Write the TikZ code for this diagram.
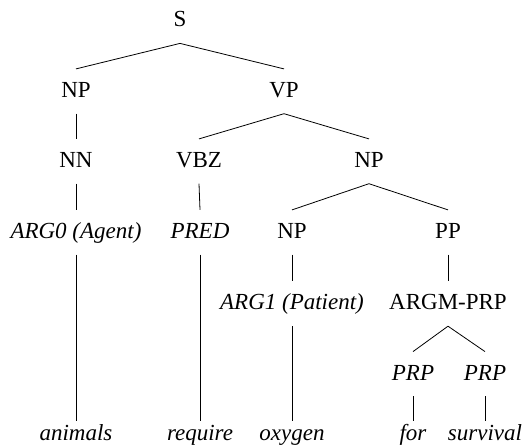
\documentclass[tikz,border=0pt]{standalone}
\usepackage{fontspec}
\setmainfont{Liberation Serif}
\usepackage{tikz}

\tikzset{
	cat/.style={anchor=base, inner sep=0pt, text height=28pt, text depth=16pt, font=\fontsize{23}{27}\selectfont},
	role/.style={cat, font=\fontsize{23}{27}\selectfont\itshape},
	word/.style={anchor=base, inner sep=0pt, text height=19.5pt, text depth=5pt, font=\fontsize{23}{27}\selectfont\itshape}
}

\begin{document}
\begin{tikzpicture}[x=1pt,y=-1pt,line width=0.8pt]
\useasboundingbox (0,0) rectangle (522,446);
% categories
\node[cat] (s) at (180,27) {S};
\node[cat] (np1) at (76,97.3) {NP};
\node[cat] (vp) at (284,97.3) {VP};
\node[cat] (nn) at (76,167.3) {NN};
\node[cat] (vbz) at (199,167.3) {VBZ};
\node[cat] (np2) at (369,167.3) {NP};
\node[role] (arg0) at (76,238.3) {ARG0 (Agent)};
\node[role] (pred) at (200,238.3) {PRED};
\node[cat] (np3) at (292,238.3) {NP};
\node[cat] (pp) at (448,238.3) {PP};
\node[role] (arg1) at (292,309.8) {ARG1 (Patient)};
\node[cat] (argm) at (448,309.8) {ARGM-PRP};
\node[role] (prp1) at (413,380) {PRP};
\node[role] (prp2) at (485,380) {PRP};
% words
\node[word] (w1) at (76,440.5) {animals};
\node[word] (w2) at (200,440.5) {require};
\node[word] (w3) at (292,440.5) {oxygen};
\node[word] (w4) at (413,440.5) {for};
\node[word] (w5) at (485,440.5) {survival};

\foreach \a/\b in {s/np1,s/vp,np1/nn,vp/vbz,vp/np2,nn/arg0,vbz/pred,np2/np3,np2/pp,
	np3/arg1,pp/argm,argm/prp1,argm/prp2,arg0/w1,pred/w2,arg1/w3,prp1/w4,prp2/w5}
	\draw (\a.south) -- (\b.north);
\end{tikzpicture}
\end{document}
